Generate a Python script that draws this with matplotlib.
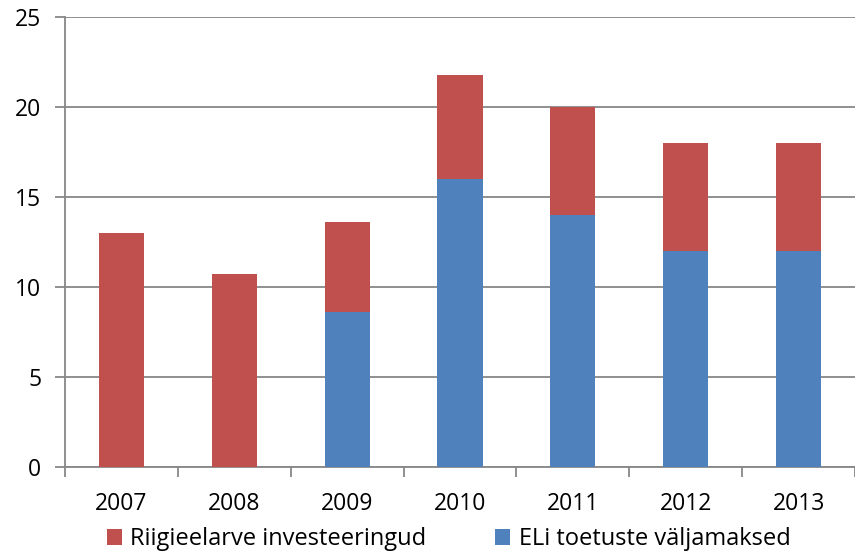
import matplotlib.pyplot as plt
import numpy as np

years = ["2007", "2008", "2009", "2010", "2011", "2012", "2013"]
eli = [0, 0, 8.6, 16.0, 14.0, 12.0, 12.0]
riik = [13.0, 10.7, 5.0, 5.8, 6.0, 6.0, 6.0]

plt.rcParams["font.family"] = ["Open Sans", "DejaVu Sans"]
grey = "#878787"

fig = plt.figure(figsize=(8.55, 5.53), dpi=100)
ax = fig.add_axes([0.076, 0.1555, 0.924, 0.8135])

x = np.arange(len(years))
b1 = ax.bar(x, eli, width=0.4, color="#4F81BD", zorder=3, label="ELi toetuste väljamaksed")
b2 = ax.bar(x, riik, width=0.4, bottom=eli, color="#C0504D", zorder=3,
            label="Riigieelarve investeeringud")

ax.set_xlim(-0.5, len(years) - 0.5)
ax.set_ylim(0, 25)
ax.set_yticks(range(0, 26, 5))
ax.set_xticks(x)
ax.set_xticklabels(years)
ax.set_xticks(np.arange(-0.5, len(years), 1.0), minor=True)
ax.tick_params(axis="x", which="major", length=0, pad=18, labelsize=16.5)
ax.tick_params(axis="x", which="minor", length=7, color=grey, width=1.3)
ax.tick_params(axis="y", length=7, color=grey, width=1.3, pad=10, labelsize=16.5)
ax.grid(axis="y", color=grey, linewidth=1.3, zorder=0)

for s in ["top", "right"]:
    ax.spines[s].set_visible(False)
for s in ["left", "bottom"]:
    ax.spines[s].set_color(grey)
    ax.spines[s].set_linewidth(1.3)

fig.legend([b2, b1], ["Riigieelarve investeeringud", "ELi toetuste väljamaksed"],
           loc="lower left", bbox_to_anchor=(0.1, -0.035), ncol=2, frameon=False,
           fontsize=17, handlelength=0.65, handleheight=0.65, handletextpad=0.35,
           columnspacing=2.9)

fig.savefig("out.png", dpi=100)
